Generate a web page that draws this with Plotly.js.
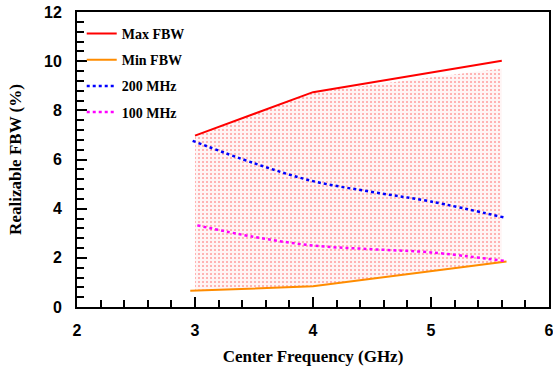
<!DOCTYPE html>
<html><head><meta charset="utf-8">
<script src="https://cdn.plot.ly/plotly-3.0.1.min.js"></script>
<style>html,body{margin:0;padding:0;background:#fff}#c{width:553px;height:369px}</style>
</head><body><div id="c"></div>
<script>
const maxX = [3, 4, 5.6];
const maxY = [6.97, 8.74, 10.02];
const minX = [2.96, 4, 5.64];
const minY = [0.66, 0.84, 1.85];
const mhz200X = [2.98, 3.5, 4, 4.5, 5, 5.63];
const mhz200Y = [6.76, 5.85, 5.12, 4.68, 4.29, 3.63];
const mhz100X = [3.02, 3.5, 4, 4.5, 5, 5.63];
const mhz100Y = [3.32, 2.85, 2.5, 2.35, 2.22, 1.87];
const fillX = [3, 4, 5.6, 5.6, 4, 3];
const fillY = [6.97, 8.74, 9.7, 1.8, 0.84, 0.7];
const xTicks = [2, 3, 4, 5, 6];
const yTicks = [0, 2, 4, 6, 8, 10, 12];

const serif = {family: 'Liberation Serif', weight: 'bold', color: '#000'};
const traces = [
  {x: fillX, y: fillY, mode: 'none', fill: 'toself', showlegend: false, hoverinfo: 'skip',
   fillcolor: 'rgba(255,220,220,0.3)',
   fillpattern: {shape: '.', fgcolor: 'rgba(255,70,70,0.5)', bgcolor: 'rgba(255,230,230,0.4)', size: 4, solidity: 0.2}},
  {x: maxX, y: maxY, mode: 'lines', name: 'Max FBW', legendgroup: 'a', line: {color: '#ff0000', width: 2}},
  {x: minX, y: minY, mode: 'lines', name: 'Min FBW', legendgroup: 'b', line: {color: '#ff8c00', width: 2}},
  {x: mhz200X, y: mhz200Y, mode: 'lines', name: '200 MHz', legendgroup: 'c', line: {color: '#0000ff', width: 2.5, dash: 'dot', shape: 'spline'}},
  {x: mhz100X, y: mhz100Y, mode: 'lines', name: '100 MHz', legendgroup: 'd', line: {color: '#ff00ff', width: 2.5, dash: 'dot', shape: 'spline'}}
];
const tickfont = {family: 'Liberation Sans', weight: 'bold', size: 16, color: '#000'};
const layout = {
  width: 553, height: 369,
  margin: {l: 77, r: 4, t: 12, b: 62},
  paper_bgcolor: '#fff', plot_bgcolor: '#fff',
  showlegend: true,
  legend: {x: 0.01, y: 0.98, xanchor: 'left', yanchor: 'top', bgcolor: 'rgba(0,0,0,0)',
           font: Object.assign({size: 14}, serif), tracegroupgap: 5, traceorder: 'grouped'},
  xaxis: {range: [2, 6], tickmode: 'array', tickvals: xTicks, ticktext: xTicks.map(String),
          ticks: 'inside', ticklen: 10, tickwidth: 2, tickcolor: '#000', ticklabelstandoff: 8,
          ticklabeloverflow: 'allow',
          showline: true, linewidth: 2, linecolor: '#000', mirror: true, showgrid: false, zeroline: false,
          tickfont: tickfont,
          minor: {dtick: 0.2, tick0: 2, ticks: 'inside', ticklen: 7, tickwidth: 2, tickcolor: '#000', showgrid: false},
          title: {text: 'Center Frequency (GHz)', font: Object.assign({size: 17}, serif), standoff: 12}},
  yaxis: {range: [0, 12], tickmode: 'array', tickvals: yTicks, ticktext: yTicks.map(String),
          ticks: 'inside', ticklen: 10, tickwidth: 2, tickcolor: '#000', ticklabelstandoff: 10,
          ticklabeloverflow: 'allow',
          showline: true, linewidth: 2, linecolor: '#000', mirror: true, showgrid: false, zeroline: false,
          tickfont: tickfont,
          minor: {dtick: 0.4, tick0: 0, ticks: 'inside', ticklen: 7, tickwidth: 2, tickcolor: '#000', showgrid: false},
          title: {text: 'Realizable FBW (%)', font: Object.assign({size: 17}, serif), standoff: 18}}
};
Plotly.newPlot('c', traces, layout, {displayModeBar: false, staticPlot: true});
</script></body></html>
